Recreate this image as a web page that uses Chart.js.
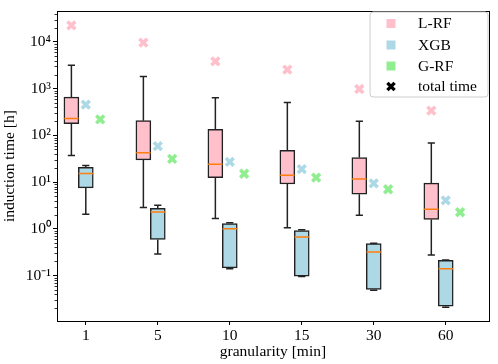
<!DOCTYPE html>
<html><head><meta charset="utf-8">
<script src="https://cdn.jsdelivr.net/npm/chart.js@4/dist/chart.umd.min.js"></script>
<style>html,body{margin:0;padding:0;background:#fff}</style>
</head><body>
<canvas id="c" width="498" height="364"></canvas>
<script>
// ---- data ----
const granularities = ['1', '5', '10', '15', '30', '60'];

const lrfWhiskerLow  = [37,   2.85, 1.67, 1.05, 1.96, 0.275];
const lrfQ1          = [179,  30,   12.5, 9.1,  5.5,  1.59];
const lrfMedian      = [231,  42.6, 24.2, 14,   11.6, 2.62];
const lrfQ3          = [658,  207,  134,  47.6, 33.4, 9.5];
const lrfWhiskerHigh = [3190, 1815, 637,  508,  200,  69];

const xgbWhiskerLow  = [2.06, 0.29, 0.14,  0.095, 0.048, 0.021];
const xgbQ1          = [7.5,  0.59, 0.145, 0.097, 0.05,  0.022];
const xgbMedian      = [15.2, 2.3,  1.0,   0.67,  0.32,  0.14];
const xgbQ3          = [20.6, 2.75, 1.3,   0.92,  0.48,  0.21];
const xgbWhiskerHigh = [22.7, 3.2,  1.35,  0.95,  0.49,  0.215];

const lrfTotal = [22700, 9700, 3860, 2560, 984, 340];
const xgbTotal = [454, 58.8, 27.2, 19.0, 9.38, 4.05];
const grfTotal = [220, 31.4, 15.1, 12.5, 7.02, 2.26];

const yTickValues = [0.1, 1, 10, 100, 1000, 10000];
const yTickLabels = ['10⁻¹', '10⁰', '10¹', '10²', '10³', '10⁴'];

const legendLabels = ['L-RF', 'XGB', 'G-RF', 'total time'];

// ---- styling ----
const FONT = 'Liberation Serif';
const FS = 15.5;
const PINK = '#ffc0cb', BLUE = '#add8e6', GREEN = '#90ee90';
const EDGE = '#222222', ORANGE = '#ff7f0e';
const OFF_L = -0.2, OFF_X = 0, OFF_G = 0.2, BOXW = 0.2, CAPW = 0.1;

function whiskerData(offset, lo, q1, q3, hi) {
  const pts = [];
  granularities.forEach((g, i) => {
    const x = i + offset;
    pts.push({x: x, y: lo[i]}, {x: x, y: q1[i]}, {x: x, y: null});
    pts.push({x: x, y: q3[i]}, {x: x, y: hi[i]}, {x: x, y: null});
    pts.push({x: x - CAPW / 2, y: lo[i]}, {x: x + CAPW / 2, y: lo[i]}, {x: x, y: null});
    pts.push({x: x - CAPW / 2, y: hi[i]}, {x: x + CAPW / 2, y: hi[i]}, {x: x, y: null});
  });
  return pts;
}
function medianData(offset, med) {
  const pts = [];
  granularities.forEach((g, i) => {
    const x = i + offset;
    pts.push({x: x - BOXW / 2, y: med[i]}, {x: x + BOXW / 2, y: med[i]}, {x: x, y: null});
  });
  return pts;
}
function boxData(offset, q1, q3) {
  return granularities.map((g, i) => ({x: i + offset, y: [q1[i], q3[i]]}));
}
function pointData(offset, vals) {
  return granularities.map((g, i) => ({x: i + offset, y: vals[i]}));
}

const lineBase = {type: 'line', showLine: true, pointRadius: 0, spanGaps: false, tension: 0, fill: false};
const boxBase = {type: 'bar', grouped: false, barThickness: 15, borderWidth: 1.5, borderColor: EDGE, borderSkipped: false};
const markBase = {type: 'scatter', pointStyle: 'crossRot', pointRadius: 5.5, pointBorderWidth: 3.6, borderWidth: 3.6};

const datasets = [
  Object.assign({}, lineBase, {label: 'w1', data: whiskerData(OFF_L, lrfWhiskerLow, lrfQ1, lrfQ3, lrfWhiskerHigh), borderColor: EDGE, borderWidth: 1.5, order: 6}),
  Object.assign({}, lineBase, {label: 'w2', data: whiskerData(OFF_X, xgbWhiskerLow, xgbQ1, xgbQ3, xgbWhiskerHigh), borderColor: EDGE, borderWidth: 1.5, order: 6}),
  Object.assign({}, boxBase, {label: 'L-RF', data: boxData(OFF_L, lrfQ1, lrfQ3), backgroundColor: PINK, order: 5}),
  Object.assign({}, boxBase, {label: 'XGB', data: boxData(OFF_X, xgbQ1, xgbQ3), backgroundColor: BLUE, order: 5}),
  Object.assign({}, lineBase, {label: 'm1', data: medianData(OFF_L, lrfMedian), borderColor: ORANGE, borderWidth: 1.5, order: 4}),
  Object.assign({}, lineBase, {label: 'm2', data: medianData(OFF_X, xgbMedian), borderColor: ORANGE, borderWidth: 1.5, order: 4}),
  Object.assign({}, markBase, {label: 'L-RF total', data: pointData(OFF_L, lrfTotal), borderColor: PINK, backgroundColor: PINK, order: 1}),
  Object.assign({}, markBase, {label: 'XGB total', data: pointData(OFF_X, xgbTotal), borderColor: BLUE, backgroundColor: BLUE, order: 1}),
  Object.assign({}, markBase, {label: 'G-RF total', data: pointData(OFF_G, grfTotal), borderColor: GREEN, backgroundColor: GREEN, order: 1})
];

const framePlugin = {
  id: 'frame',
  afterDraw(chart) {
    const ctx = chart.ctx, a = chart.chartArea, ys = chart.scales.y;
    ctx.save();
    // minor log ticks
    ctx.strokeStyle = '#000'; ctx.lineWidth = 0.8;
    for (let e = -2; e <= 4; e++) {
      for (let m = 2; m <= 9; m++) {
        const v = m * Math.pow(10, e);
        if (v < ys.min || v > ys.max) continue;
        const py = Math.round(ys.getPixelForValue(v)) + 0.5;
        ctx.beginPath(); ctx.moveTo(a.left - 2.5, py); ctx.lineTo(a.left, py); ctx.stroke();
      }
    }
    // frame
    ctx.lineWidth = 1; ctx.strokeStyle = '#000';
    ctx.strokeRect(Math.round(a.left) + 0.5, Math.round(a.top) + 0.5, Math.round(a.right - a.left), Math.round(a.bottom - a.top));
    // legend
    const lx = 370, ly = 12, lw = 118, lh = 85, r = 3;
    ctx.beginPath();
    ctx.moveTo(lx + r, ly); ctx.lineTo(lx + lw - r, ly); ctx.quadraticCurveTo(lx + lw, ly, lx + lw, ly + r);
    ctx.lineTo(lx + lw, ly + lh - r); ctx.quadraticCurveTo(lx + lw, ly + lh, lx + lw - r, ly + lh);
    ctx.lineTo(lx + r, ly + lh); ctx.quadraticCurveTo(lx, ly + lh, lx, ly + lh - r);
    ctx.lineTo(lx, ly + r); ctx.quadraticCurveTo(lx, ly, lx + r, ly);
    ctx.closePath();
    ctx.fillStyle = 'rgba(255,255,255,0.8)'; ctx.fill();
    ctx.strokeStyle = '#cccccc'; ctx.lineWidth = 1; ctx.stroke();
    const rows = [23.5, 45, 66, 86.5];
    const cols = [PINK, BLUE, GREEN];
    ctx.font = FS + 'px "' + FONT + '"'; ctx.textBaseline = 'middle'; ctx.textAlign = 'left';
    rows.forEach((yy, k) => {
      if (k < 3) {
        ctx.fillStyle = cols[k]; ctx.fillRect(386.5, yy - 4.5, 9, 9);
      } else {
        ctx.strokeStyle = '#000'; ctx.lineWidth = 3.4; const d = 3.6;
        ctx.beginPath(); ctx.moveTo(391 - d, yy - d); ctx.lineTo(391 + d, yy + d);
        ctx.moveTo(391 - d, yy + d); ctx.lineTo(391 + d, yy - d); ctx.stroke();
      }
      ctx.fillStyle = '#000'; ctx.fillText(legendLabels[k], 418, yy + 0.5);
    });
    ctx.restore();
  }
};

new Chart(document.getElementById('c'), {
  type: 'scatter',
  data: {datasets},
  options: {
    responsive: false, animation: false, devicePixelRatio: 1,
    layout: {padding: {left: 0, top: 5, right: 3, bottom: 0}},
    plugins: {legend: {display: false}, tooltip: {enabled: false}},
    scales: {
      x: {
        type: 'linear', min: -0.4, max: 5.6, offset: false,
        afterBuildTicks: s => { s.ticks = granularities.map((g, i) => ({value: i})); },
        afterFit: s => { s.height = 43; },
        ticks: {callback: v => granularities[Math.round(v)], autoSkip: false, maxRotation: 0, padding: 2,
                font: {family: FONT, size: FS}, color: '#000'},
        grid: {offset: false, drawOnChartArea: false, tickLength: 4, tickColor: '#000', tickWidth: 1},
        border: {display: true, color: '#000', width: 1},
        title: {display: true, text: 'granularity [min]', font: {family: FONT, size: FS}, color: '#000', padding: {top: 0, bottom: 3}}
      },
      y: {
        type: 'logarithmic', min: 0.0106, max: 45400,
        afterBuildTicks: s => { s.ticks = yTickValues.map(v => ({value: v})); },
        afterFit: s => { s.width = 57; },
        ticks: {callback: (v, i) => yTickLabels[i], autoSkip: false, padding: 2,
                font: {family: FONT, size: FS}, color: '#000'},
        grid: {offset: false, drawOnChartArea: false, tickLength: 4, tickColor: '#000', tickWidth: 1},
        border: {display: true, color: '#000', width: 1},
        title: {display: true, text: 'induction time [h]', font: {family: FONT, size: FS}, color: '#000', padding: {top: 1, bottom: 0}}
      }
    }
  },
  plugins: [framePlugin]
});
</script>
</body></html>
